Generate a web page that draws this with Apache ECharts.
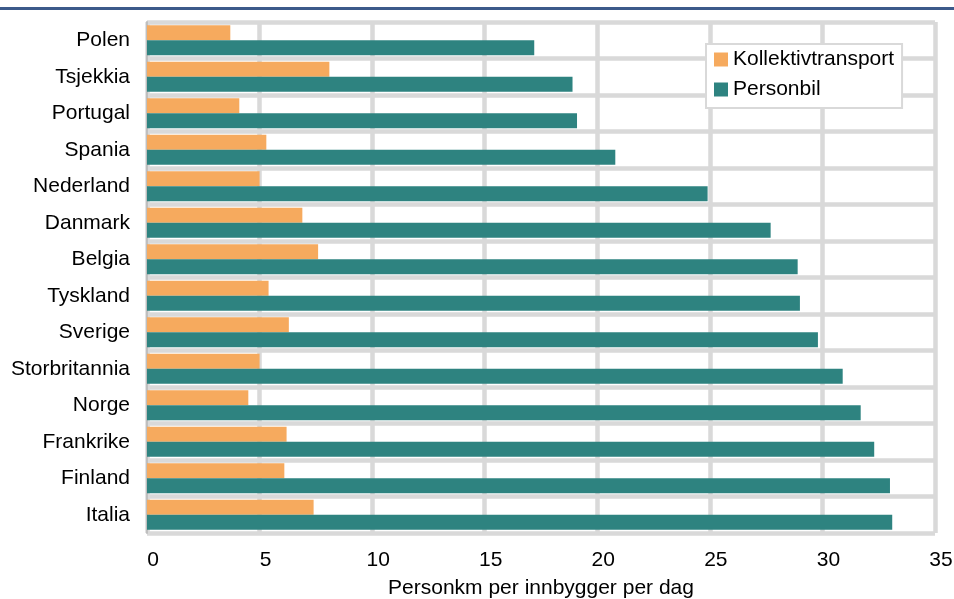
<!DOCTYPE html>
<html>
<head>
<meta charset="utf-8">
<script src="https://cdn.jsdelivr.net/npm/echarts@6/dist/echarts.min.js"></script>
<style>
  html, body { margin: 0; padding: 0; background: #fff; }
  #chart { width: 954px; height: 599px; }
</style>
</head>
<body>
<div id="chart"></div>
<script>
// Daily passenger-km per inhabitant, by country
const countries = ['Polen', 'Tsjekkia', 'Portugal', 'Spania', 'Nederland', 'Danmark', 'Belgia',
  'Tyskland', 'Sverige', 'Storbritannia', 'Norge', 'Frankrike', 'Finland', 'Italia'];
const kollektivtransport = [3.7, 8.1, 4.1, 5.3, 5.0, 6.9, 7.6, 5.4, 6.3, 5.0, 4.5, 6.2, 6.1, 7.4];
const personbil = [17.2, 18.9, 19.1, 20.8, 24.9, 27.7, 28.9, 29.0, 29.8, 30.9, 31.7, 32.3, 33.0, 33.1];
const seriesNames = ['Kollektivtransport', 'Personbil'];
const axisTitle = 'Personkm per innbygger per dag';

const FONT = '"Liberation Sans", Arial, sans-serif';
const GRID_GREY = '#d9d9d9';

const chart = echarts.init(document.getElementById('chart'), null, { renderer: 'canvas' });
chart.setOption({
  animation: false,
  backgroundColor: '#ffffff',
  textStyle: { fontFamily: FONT },
  graphic: [
    { type: 'rect', left: 0, top: 7, shape: { width: 954, height: 3 }, style: { fill: '#3c5a8a' } }
  ],
  grid: { left: 147, right: 19, top: 22, bottom: 66, containLabel: false, outerBoundsMode: 'none' },
  legend: {
    data: seriesNames,
    orient: 'vertical',
    left: 706, top: 44,
    padding: [5, 8, 8, 8],
    itemWidth: 14, itemHeight: 14, itemGap: 9,
    icon: 'rect',
    backgroundColor: '#ffffff',
    borderColor: GRID_GREY, borderWidth: 2,
    textStyle: { fontSize: 21, color: '#000', fontFamily: FONT }
  },
  xAxis: {
    type: 'value', min: 0, max: 35, interval: 5,
    axisLine: { show: false }, axisTick: { show: false },
    axisLabel: { fontSize: 21, color: '#000', margin: 17, padding: [0, 0, 0, 12], fontFamily: FONT },
    splitLine: { show: true, lineStyle: { color: GRID_GREY, width: 4.5 } },
    name: axisTitle, nameLocation: 'middle', nameGap: 45,
    nameTextStyle: { fontSize: 21, color: '#000', fontFamily: FONT }
  },
  yAxis: {
    type: 'category', data: countries, inverse: true,
    axisLine: { show: true, lineStyle: { color: '#bfbfbf', width: 2 } },
    axisTick: { show: false },
    axisLabel: { fontSize: 21, color: '#000', margin: 17, fontFamily: FONT },
    splitLine: { show: true, lineStyle: { color: GRID_GREY, width: 4.5 } }
  },
  series: [
    { name: seriesNames[0], type: 'bar', data: kollektivtransport, barGap: '0%', barCategoryGap: '18%',
      itemStyle: { color: '#f6aa5e' } },
    { name: seriesNames[1], type: 'bar', data: personbil, barGap: '0%', barCategoryGap: '18%',
      itemStyle: { color: '#2e8380' } }
  ]
});
</script>
</body>
</html>
